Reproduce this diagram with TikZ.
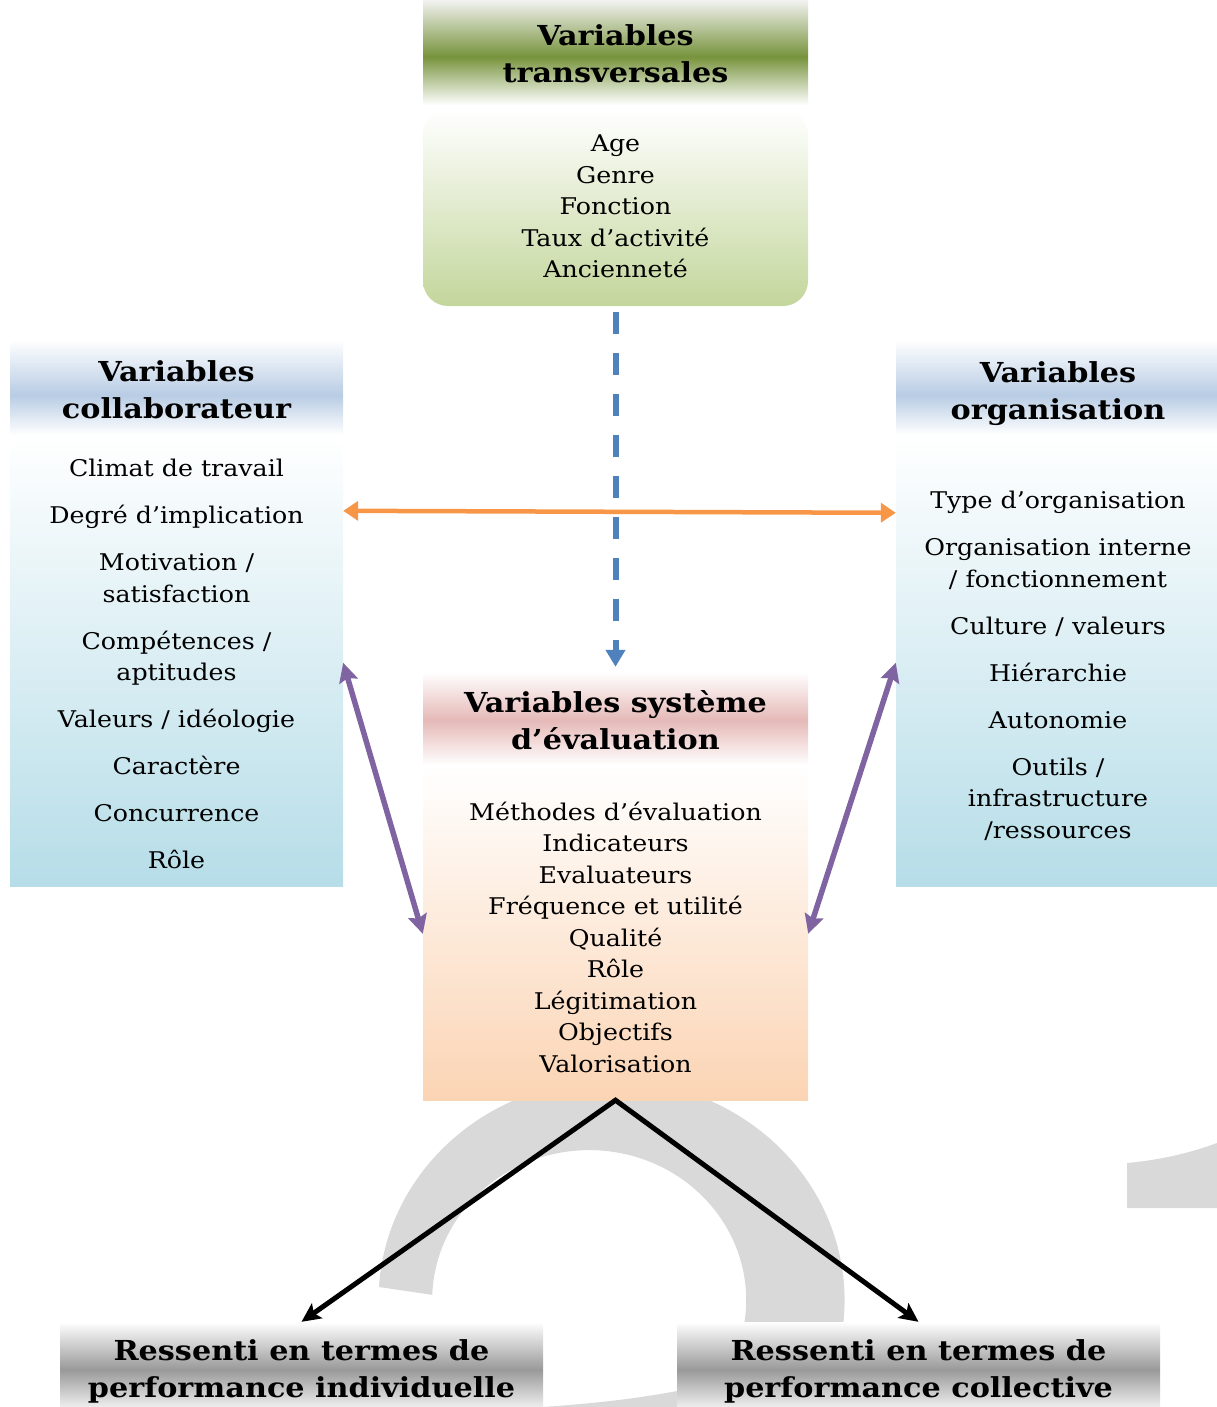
\documentclass[tikz,border=0pt]{standalone}
\usepackage{fontspec}
\setmainfont[FakeStretch=1.1]{DejaVu Serif}
\usetikzlibrary{arrows.meta}
\definecolor{hgreen}{HTML}{77933C}
\definecolor{bgreen}{HTML}{C3D69B}
\definecolor{hblue}{HTML}{B8CCE4}
\definecolor{bblue}{HTML}{B6DDE8}
\definecolor{hpink}{HTML}{E5B9B7}
\definecolor{bpeach}{HTML}{FBD4B4}
\definecolor{hgray}{HTML}{999999}
\definecolor{ghost}{HTML}{D9D9D9}
\definecolor{ablue}{HTML}{4F81BD}
\definecolor{aorange}{HTML}{F79646}
\definecolor{apurple}{HTML}{8064A2}
\definecolor{topgray}{HTML}{F2F2F0}
\definecolor{lowgray}{HTML}{EEEEEE}
\pgfdeclareverticalshading{greenhead}{100bp}{color(0bp)=(white); color(25bp)=(white); color(48bp)=(hgreen); color(75bp)=(topgray); color(100bp)=(topgray)}
\pgfdeclareverticalshading{bluehead}{100bp}{color(0bp)=(white); color(25bp)=(white); color(46bp)=(hblue); color(75bp)=(white); color(100bp)=(white)}
\pgfdeclareverticalshading{pinkhead}{100bp}{color(0bp)=(white); color(25bp)=(white); color(49bp)=(hpink); color(75bp)=(white); color(100bp)=(white)}
\pgfdeclareverticalshading{grayhead}{100bp}{color(0bp)=(lowgray); color(25bp)=(lowgray); color(47bp)=(hgray); color(75bp)=(white); color(100bp)=(white)}
\newcommand{\hdfont}{\fontsize{27.5}{37}\selectfont\bfseries}
\newcommand{\bdfont}{\fontsize{23}{31.5}\selectfont}
\tikzset{
  panel/.style={rectangle, inner sep=0pt, draw=none},
  htxt/.style={font=\hdfont, align=center, inner sep=0pt, anchor=north},
  btxt/.style={font=\bdfont, align=center, inner sep=0pt, anchor=north},
  ghostfill/.style={fill=ghost, draw=none},
  bluearrow/.style={line width=6pt, ablue, dash pattern=on 22pt off 19pt, -{Triangle[width=19pt,length=17pt]}},
  orangearrow/.style={line width=4.5pt, aorange, {Triangle[width=19pt,length=15pt]}-{Triangle[width=19pt,length=15pt]}},
  purplearrow/.style={line width=5.5pt, apurple, {Stealth[width=19pt,length=19pt,inset=3pt]}-{Stealth[width=19pt,length=19pt,inset=3pt]}},
  blackarrow/.style={line width=5pt, black, line join=miter, {Stealth[width=18pt,length=19pt,inset=4pt]}-{Stealth[width=18pt,length=19pt,inset=4pt]}}
}
\begin{document}
\begin{tikzpicture}[x=1pt,y=-1pt]
\useasboundingbox (0,0) rectangle (1217,1407);
% background watermark shapes
\fill[ghostfill] (379,1287) arc[start angle=183.4, end angle=367.8, x radius=233, y radius=220] -- (743,1330) arc[start angle=371.5, end angle=182, x radius=157, y radius=150] -- cycle;
\fill[ghostfill] (543,1407) .. controls (600,1403) and (640,1398) .. (677,1391) -- (677,1407) -- cycle;
\fill[ghostfill] (1127,1163) .. controls (1160,1160) and (1190,1153) .. (1217,1143) -- (1217,1208) -- (1127,1208) -- cycle;
% panels
\node[panel, shade, shading=greenhead, minimum width=385pt, minimum height=105pt] (tHead) at (615.5,52.5) {};
\node[panel, rounded corners=25pt, top color=white, bottom color=bgreen, minimum width=385pt, minimum height=196pt] (tBody) at (615.5,208) {};
\node[panel, shade, shading=bluehead, minimum width=333pt, minimum height=95pt] (cHead) at (176.5,387.5) {};
\node[panel, top color=white, bottom color=bblue, minimum width=333pt, minimum height=451pt] (cBody) at (176.5,660.5) {};
\node[panel, shade, shading=bluehead, minimum width=321pt, minimum height=95pt] (oHead) at (1056.5,387.5) {};
\node[panel, top color=white, bottom color=bblue, minimum width=321pt, minimum height=451pt] (oBody) at (1056.5,660.5) {};
\node[panel, shade, shading=pinkhead, minimum width=385pt, minimum height=93pt] (eHead) at (615.5,718.5) {};
\node[panel, top color=white, bottom color=bpeach, minimum width=385pt, minimum height=335pt] (eBody) at (615.5,932.5) {};
\node[panel, shade, shading=grayhead, minimum width=483pt, minimum height=85pt] (ipHead) at (301.5,1364.5) {};
\node[panel, shade, shading=grayhead, minimum width=483pt, minimum height=85pt] (cpHead) at (918.5,1364.5) {};
% texts
\node[htxt] (tHeadT) at (615.5,19.1) {\strut Variables\\transversales};
\node[btxt] (tBodyT) at (615.5,129.6) {\strut Age\\Genre\\Fonction\\Taux d’activité\\Ancienneté};
\node[htxt] (cHeadT) at (176.5,355.1) {\strut Variables\\collaborateur};
\node[btxt] (cBodyT) at (176.5,454.5) {\strut Climat de travail\\[15.5pt]Degré d’implication\\[15.5pt]Motivation /\\satisfaction\\[15.5pt]Compétences /\\aptitudes\\[15.5pt]Valeurs / idéologie\\[15.5pt]Caractère\\[15.5pt]Concurrence\\[15.5pt]Rôle};
\node[htxt] (oHeadT) at (1058,356.1) {\strut Variables\\organisation};
\node[btxt] (oBodyT) at (1058,486.5) {\strut Type d’organisation\\[15.5pt]Organisation interne\\/ fonctionnement\\[15.5pt]Culture / valeurs\\[15.5pt]Hiérarchie\\[15.5pt]Autonomie\\[15.5pt]Outils /\\infrastructure\\/ressources};
\node[htxt] (eHeadT) at (615.5,686.1) {\strut Variables système\\d’évaluation};
\node[btxt] (eBodyT) at (615.5,798) {\strut Méthodes d’évaluation\\Indicateurs\\Evaluateurs\\Fréquence et utilité\\Qualité\\Rôle\\Légitimation\\Objectifs\\Valorisation};
\node[htxt] (ipT) at (301.5,1334) {\strut Ressenti en termes de\\performance individuelle};
\node[htxt] (cpT) at (918.5,1334) {\strut Ressenti en termes de\\performance collective};
% connectors
\draw[bluearrow] ([yshift=-6pt]tBody.south) -- ([yshift=5pt]eHead.north);
\draw[orangearrow] ([yshift=-76pt]cBody.north east) -- ([yshift=-78pt]oBody.north west);
\draw[purplearrow] ([yshift=-228pt]cBody.north east) -- ([yshift=-169pt]eBody.north west);
\draw[purplearrow] ([yshift=-228pt]oBody.north west) -- ([yshift=-169pt]eBody.north east);
\draw[blackarrow] (ipHead.north) -- (eBody.south) -- (cpHead.north);
\end{tikzpicture}
\end{document}
